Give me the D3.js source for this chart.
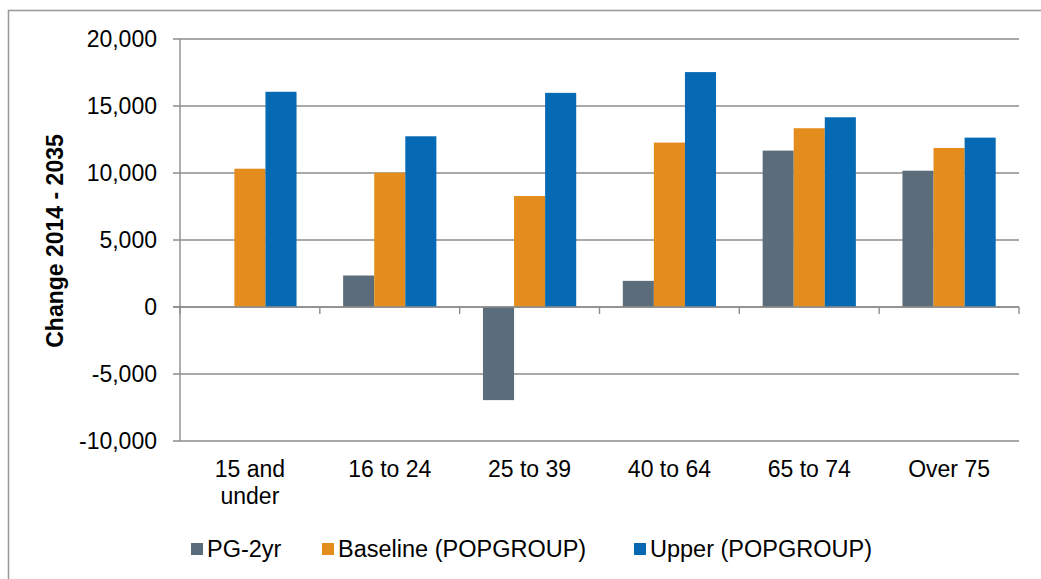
<!DOCTYPE html>
<html><head><meta charset="utf-8">
<script src="https://cdn.jsdelivr.net/npm/d3@7"></script>
<style>
html,body{margin:0;padding:0;background:#fff;}
svg{display:block;font-family:"Liberation Sans",Arial,sans-serif;}
</style></head>
<body><svg id="c" width="1041" height="579"></svg>
<script>
const categories = ["15 and under", "16 to 24", "25 to 39", "40 to 64", "65 to 74", "Over 75"];
const seriesNames = ["PG-2yr", "Baseline (POPGROUP)", "Upper (POPGROUP)"];
const pg2yr    = [null, 2350, -6950, 1950, 11670, 10170];
const baseline = [10320, 10020, 8280, 12270, 13340, 11870];
const upper    = [16060, 12740, 15980, 17530, 14160, 12640];
const yTicks = [-10000, -5000, 0, 5000, 10000, 15000, 20000];
const colors = ["#5B6C7A", "#E48D1C", "#0569B3"];

const svg = d3.select("#c");
const plotL = 180, plotR = 1019, plotT = 39, plotB = 441;
const grid = "#8C8C8C";

// outer border
svg.append("path").attr("d", "M8.5,590 V10.5 H1060").attr("fill","none").attr("stroke","#999").attr("stroke-width",1.5);

const y = d3.scaleLinear().domain([-10000, 20000]).range([plotB, plotT]);
const x = d3.scaleBand().domain(categories).range([plotL, plotR]).padding(0);
const xi = d3.scaleBand().domain(seriesNames).range([0, x.bandwidth()]).paddingInner(0).paddingOuter(0.75);

// gridlines
svg.append("g").selectAll("line").data(yTicks).join("line")
  .attr("x1", plotL - 7).attr("x2", plotR)
  .attr("y1", d => y(d)).attr("y2", d => y(d))
  .attr("stroke", grid).attr("stroke-width", 1.4);

// y axis line
svg.append("line").attr("x1", plotL).attr("x2", plotL).attr("y1", plotT).attr("y2", plotB)
  .attr("stroke", grid).attr("stroke-width", 1.4);

// y tick labels
const fmt = v => d3.format(",")(v).replace("\u2212", "-");
svg.append("g").selectAll("text").data(yTicks).join("text")
  .attr("x", 157).attr("y", d => y(d)).attr("dy", "0.35em")
  .attr("text-anchor", "end").attr("font-size", 23).attr("fill", "#000")
  .text(d => fmt(d));

// bars
const data = [pg2yr, baseline, upper];
seriesNames.forEach((s, si) => {
  svg.append("g").selectAll("rect")
    .data(categories.map((c, i) => ({c, v: data[si][i]})).filter(d => d.v != null))
    .join("rect")
    .attr("x", d => x(d.c) + xi(s))
    .attr("width", xi.bandwidth())
    .attr("y", d => y(Math.max(0, d.v)))
    .attr("height", d => Math.abs(y(d.v) - y(0)))
    .attr("fill", colors[si]);
});

// zero line on top + category ticks
svg.append("line").attr("x1", plotL - 7).attr("x2", plotR).attr("y1", y(0)).attr("y2", y(0))
  .attr("stroke", grid).attr("stroke-width", 1.4);
const tickXs = categories.map(c => x(c)).concat([plotR]);
svg.append("g").selectAll("line").data(tickXs).join("line")
  .attr("x1", d => d).attr("x2", d => d).attr("y1", y(0)).attr("y2", y(0) + 7)
  .attr("stroke", grid).attr("stroke-width", 1.4);

// category labels
const catLines = {"15 and under": ["15 and", "under"]};
categories.forEach(c => {
  const lines = catLines[c] || [c];
  const t = svg.append("text").attr("text-anchor", "middle").attr("font-size", 23).attr("fill", "#000");
  lines.forEach((l, k) => {
    t.append("tspan").attr("x", x(c) + x.bandwidth() / 2).attr("y", 477 + k * 27).text(l);
  });
});

// y axis title
svg.append("text").attr("transform", "translate(63,241) rotate(-90)")
  .attr("text-anchor", "middle").attr("font-size", 23).attr("font-weight", "bold").attr("fill", "#000")
  .text("Change 2014 - 2035");

// legend
const legendX = [191, 322, 634];
seriesNames.forEach((s, si) => {
  svg.append("rect").attr("x", legendX[si]).attr("y", 543).attr("width", 12).attr("height", 12).attr("fill", colors[si]);
  svg.append("text").attr("x", legendX[si] + 16).attr("y", 557).attr("font-size", 23.5).attr("fill", "#000").text(s);
});
</script></body></html>
